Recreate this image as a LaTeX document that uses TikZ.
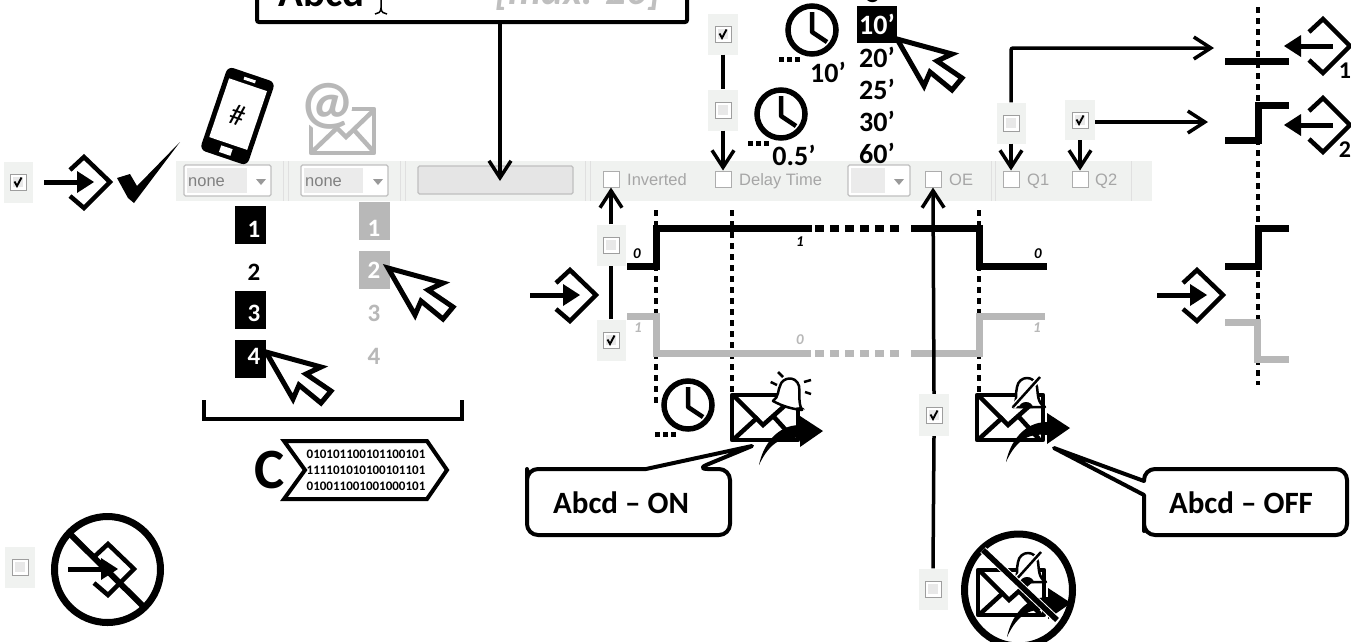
\documentclass[tikz,border=0pt]{standalone}
\usepackage{fontspec}
\setmainfont{Carlito}
\newfontfamily\uifont{Liberation Sans}
\usetikzlibrary{arrows.meta}
\definecolor{bargray}{HTML}{F0F2F0}
\definecolor{sig}{HTML}{B8B8B8}
\definecolor{uitext}{HTML}{A6A6A6}
\newcommand{\fs}[1]{\fontsize{#1}{#1}\selectfont}
\newcommand{\bfs}[1]{\fontsize{#1}{#1}\selectfont\bfseries}
% checkbox on grey patch: name, x, y, w, h
\newcommand{\cbplain}[5]{%
  \node[patch,minimum width=#4,minimum height=#5] (#1) at (#2,#3) {};
  \node[tick] at (#2,#3) {};
  \node[tickin] at (#2,#3) {};}
\newcommand{\cbon}[5]{%
  \cbplain{#1}{#2}{#3}{#4}{#5}
  \draw[line width=1.9,line join=miter] (#2-3.5,#3-0.5) -- (#2-1,#3+4) -- (#2+3.5,#3-4.5);}
\tikzset{
  x=1pt,y=-1pt,
  patch/.style={fill=bargray,draw=none,inner sep=0},
  tick/.style={draw=black!38,fill=white,line width=1,minimum size=16,inner sep=0},
  tickin/.style={fill=black!9,minimum size=10,inner sep=0},
  uibox/.style={draw=black!32,fill=white,line width=1,minimum size=16,inner sep=0},
  uilabel/.style={text=uitext,anchor=base west,inner sep=0,font=\uifont\fs{16.5}},
  combo/.style={draw=black!25,fill=white,line width=1.2,rounded corners=1.5,inner sep=0,minimum height=31},
  num/.style={font=\bfs{25},inner sep=0},
  tm/.style={font=\bfs{28},inner sep=0},
  lev/.style={font=\bfseries\itshape\fs{15},inner sep=0},
  conn/.style={line width=3.5,-{Straight Barb[length=17pt,width=22pt,line width=3.5pt]}},
  plainconn/.style={line width=3.5},
  sigline/.style={line width=7,line join=miter},
  dots/.style={line width=3.5,dash pattern=on 6pt off 5pt},
  thick box/.style={line width=4,line join=round},
  entryicon/.pic={
    \draw[line width=5] (0,0) -- (36,0);
    \fill (33,-11) -- (50,0) -- (33,11) -- cycle;
    \draw[line width=4.5,line join=miter] (26,-12) -- (40,-25) -- (66,0) -- (40,26) -- (26,14);},
  exiticon/.pic={
    \draw[line width=5] (24,0) -- (-10,0);
    \fill (-25,0) -- (-8,-11) -- (-8,11) -- cycle;
    \draw[line width=4.5,line join=miter] (0,-14) -- (14,-27) -- (41,0) -- (14,27) -- (0,14);},
  cursoric/.pic={
    \draw[line width=5,fill=white,line join=miter] (0,0) -- (55,15) -- (40,22) -- (65,39) -- (55,51) -- (33,33) -- (27,47) -- cycle;},
  clockic/.pic={
    \draw[line width=5.5,fill=white] (0,0) circle (24);
    \draw[line width=4.5,line join=round] (0,-18) -- (0,2) -- (15,12);
    \foreach \q in {-33,-25,-17} \fill (\q,27) rectangle +(5,5);},
  mailbase/.pic={
    \draw[line width=4.5,line join=round,fill=white] (0,0) rectangle (66,45);
    \draw[line width=4.5,line join=miter] (2,1) -- (31,30) -- (58,6);
    \draw[line width=4.5] (2,44) -- (26,22);
    \draw[line width=4.5] (42,22) -- (62,44);},
  mailarrow/.pic={
    \fill (27,70) .. controls (31,50) and (45,30) .. (68,30) -- (68,21) -- (91,36) -- (68,52) -- (68,43) .. controls (52,41) and (38,46) .. (27,70) -- cycle;},
  mailon/.pic={
    \pic at (0,0) {mailbase};
    \draw[line width=2.5,fill=white,line join=round] (41,6) .. controls (47,2) and (46,-6) .. (48,-9) .. controls (50,-18) and (64,-20) .. (67,-9) .. controls (68,-2) and (66,8) .. (70,15) .. controls (60,14) and (50,11) .. (41,6) -- cycle;
    \fill (50,12) -- (62,14.5) arc (10:170:-5.5 and -3) -- cycle;
    \draw[line width=2.5] (38.7,-13) -- (45,-10) (46,-23) -- (51,-18) (72,-13) -- (79,-15) (73,-3) -- (79,-1);
    \pic at (0,0) {mailarrow};},
  mailoff/.pic={
    \pic at (0,0) {mailbase};
    \draw[line width=2.5,fill=white,line join=round] (36,12) .. controls (41,6) and (38,-2) .. (40,-8) .. controls (42,-20) and (58,-20) .. (60,-8) .. controls (61,-2) and (60,8) .. (68,12) -- cycle;
    \fill (42,13) arc (180:360:7 and 6) -- cycle;
    \draw[line width=5.5,white] (63,-18) -- (36,12);
    \draw[line width=2.5] (63,-18) -- (36,12);
    \pic at (2,-3) {mailarrow};},
}
\begin{document}
\begin{tikzpicture}
\useasboundingbox (0,0) rectangle (1351,641);
\clip (0,0) rectangle (1351,641);
\fill[white] (0,0) rectangle (1351,641);

% toolbar
\fill[bargray] (176,161) rectangle (1152,201);
\foreach \q in {283,288,400,405,585,590,991,995,1131}
  \draw[black!12,line width=0.8] (\q,161) -- (\q,201);
\node[combo,minimum width=87] (comboA) at (227.5,180.5) {};
\fill[black!8] (187,168) rectangle (247,193);
\node[inner sep=0,anchor=base west,text=black!50,font=\uifont\fs{16.5}] (noneA) at (188,186) {none};
\fill[black!40] (256,179) -- (266,179) -- (261,185) -- cycle;
\node[combo,minimum width=87] (comboB) at (344.5,180.5) {};
\fill[black!8] (304,168) rectangle (363,193);
\node[inner sep=0,anchor=base west,text=black!50,font=\uifont\fs{16.5}] (noneB) at (305,186) {none};
\fill[black!40] (373,179) -- (383,179) -- (378,185) -- cycle;
\node[draw=black!25,fill=black!10,line width=1.2,rounded corners=1.5,minimum width=155,minimum height=28,inner sep=0] (field) at (495.5,180) {};
\node[combo,minimum width=62] (comboC) at (879,180.5) {};
\fill[black!8] (851,168) rectangle (885,193);
\fill[black!40] (894,179) -- (904,179) -- (899,185) -- cycle;

\node[uibox] (inv) at (611,179) {};
\node[uilabel] (invT) at (627,185) {Inverted};
\node[uibox] (delay) at (723,179) {};
\node[uilabel] (delayT) at (739,185) {Delay Time};
\node[uibox] (oe) at (933,179) {};
\node[uilabel] (oeT) at (949,185) {OE};
\node[uibox] (qa) at (1011,179) {};
\node[uilabel] (qaT) at (1027,185) {Q1};
\node[uibox] (qb) at (1080,179) {};
\node[uilabel] (qbT) at (1095,185) {Q2};

% top input box
\node[draw,line width=4,rounded corners=2,minimum width=430,minimum height=60,inner sep=0] (topbox) at (472,-8) {};
\node[anchor=base west,inner sep=0,font=\bfs{41}] (abcd) at (278,6) {Abcd};
\node[anchor=base west,inner sep=0,text=black!25,font=\bfseries\itshape\fs{41}] (maxt) at (495,4) {[max: 20]};
\draw[line width=1.5] (381,0) -- (381,8) .. controls (381,12) and (378,14) .. (375,14) (381,8) .. controls (381,12) and (384,14) .. (387,14);
\coordinate (fieldtip) at (500,181);
\draw[conn] (topbox.south -| fieldtip) -- (fieldtip);

% checkboxes on patches
\cbon{cA}{18}{182}{29}{41}
\cbon{cDelA}{723}{34}{30}{41}
\cbplain{cDelB}{723}{110}{30}{41}
\cbplain{cQa}{1011}{123}{29}{41}
\cbon{cQb}{1080}{120}{30}{40}
\cbplain{cInvA}{611}{245}{29}{41}
\cbon{cInvB}{611}{340}{29}{41}
\cbon{cOeA}{934}{415}{30}{42}
\cbplain{cOeB}{933}{589}{29}{41}
\cbplain{cNo}{20}{567}{30}{41}

\coordinate (qatip) at (1214,48);
\coordinate (qbtip) at (1208,122);
\draw[plainconn] (cDelA.south) -- (cDelB.north);
\draw[conn] (cDelB.south) -- (delay.north);
\draw[conn,rounded corners=2] (cQa.north) -- (cQa.north |- qatip) -- (qatip);
\draw[conn] (cQa.south) -- (qa.north);
\draw[conn] (cQb.east |- qbtip) -- (qbtip);
\draw[conn] (cQb.south) -- (qb.north);
\draw[conn] (cInvA.north) -- (inv.south);
\draw[plainconn] (cInvB.north) -- (cInvA.south);
\draw[plainconn] (cOeB.north) -- (cOeA.south);

% dotted guides
\draw[dots] (656,210) -- (656,405);
\draw[dots] (732,210) -- (732,400);
\draw[dots] (979,210) -- (979,392);
\draw[dots] (1258,7) -- (1258,385);

% waveforms
\draw[sigline] (627,266) -- (656,266) -- (656,228) -- (812,228);
\draw[sigline] (911,228) -- (979,228) -- (979,266) -- (1047,266);
\draw[sigline,dash pattern=on 9pt off 6pt] (815,228) -- (904,228);
\draw[sigline,sig] (627,316) -- (656,316) -- (656,353) -- (811,353);
\draw[sigline,sig] (911,353) -- (979,353) -- (979,316) -- (1045,316);
\draw[sigline,sig,dash pattern=on 9pt off 6pt] (815,353) -- (904,353);
\draw[conn] (cOeA.north) -- (oe.south);
\node[lev] (l1) at (637,254) {0};
\node[lev] (l2) at (800,242) {1};
\node[lev] (l3) at (1038,254) {0};
\node[lev,text=sig] (l4) at (638,328) {1};
\node[lev,text=sig] (l5) at (800,340) {0};
\node[lev,text=sig] (l6) at (1037,328) {1};

\draw[sigline] (1225,61) -- (1289,61);
\draw[sigline] (1225,140) -- (1258,140) -- (1258,105) -- (1289,105);
\draw[sigline] (1225,266) -- (1258,266) -- (1258,228) -- (1289,228);
\draw[sigline,sig] (1225,322) -- (1257,322) -- (1257,359) -- (1289,359);

% entry and exit icons
\pic at (44,182) {entryicon};
\pic at (530,295) {entryicon};
\pic at (1157,295) {entryicon};
\pic at (1309,46) {exiticon};
\pic at (1309,125) {exiticon};
\node[font=\bfs{24},inner sep=0] (one) at (1345,71) {1};
\node[font=\bfs{24},inner sep=0] (two) at (1345,150) {2};

% check mark
\fill (117,178) -- (130,174) -- (137,186) -- (180,142) -- (134,203) -- (128,198) -- cycle;

% phone
\begin{scope}[shift={(237.5,116)},rotate=-18.7]
\fill[rounded corners=6] (-25,-44) rectangle (25,44);
\fill[white] (-20,-33) rectangle (20,29);
\fill[white] (-6,-39.5) rectangle (6,-36.5);
\fill[white] (-6,33) rectangle (6,40);
\node[font=\fs{30},inner sep=0,transform shape] (hash) at (0,-1) {\#};
\end{scope}

% at-mail
\draw[sig,line width=4.5,line join=round] (311,109) rectangle (374,153);
\fill[white] (327,107) circle (25);
\draw[sig,line width=4.5,line join=miter] (312,152) -- (337,128) -- (346,137) -- (373,111);
\draw[sig,line width=4.5] (354,130) -- (373,151);
\node[inner sep=0,text=sig,font=\bfs{60}] (atsign) at (327,106) {@};

% number lists
\fill (235,206) rectangle (266,244);
\fill (235,291) rectangle (266,329);
\fill (235,340) rectangle (266,378);
\node[num,text=white] (n1) at (254,229) {1};
\node[num] (n2) at (254,272) {2};
\node[num,text=white] (n3) at (254,313) {3};
\node[num,text=white] (n4) at (254,356) {4};
\fill[sig] (359,202) rectangle (390,240);
\fill[sig] (359,251) rectangle (390,289);
\node[num,text=white] (m1) at (374,228) {1};
\node[num,text=white] (m2) at (374,270) {2};
\node[num,text=sig] (m3) at (374,313) {3};
\node[num,text=sig] (m4) at (374,356) {4};
\pic at (388,268) {cursoric};
\pic at (266,352) {cursoric};

% bracket and code
\draw[thick box,line join=miter] (204,400) -- (204,419) -- (462,419) -- (462,400);
\node[font=\bfs{57},inner sep=0] (cc) at (270,470) {C};
\draw[line width=4,fill=white,line join=miter] (284,441) -- (427,441) -- (447,470) -- (427,499) -- (284,499) -- (305,470) -- cycle;
\node[align=center,inner sep=0,font=\fontsize{13}{16}\selectfont\bfseries] (bits) at (366,470) {010101100101100101\\111101010100101101\\010011001001000101};

% delay list
\fill (857,6) rectangle (897,43);
\node[tm] (t0) at (877,-8) {5’};
\node[tm,text=white] (t1) at (877,24) {10’};
\node[tm] (t2) at (877,57) {20’};
\node[tm] (t3) at (877,89) {25’};
\node[tm] (t4) at (877,121) {30’};
\node[tm] (t5) at (877,153) {60’};
\pic at (897,39) {cursoric};
\pic at (812,30) {clockic};
\pic at (781,114) {clockic};
\pic at (688,405) {clockic};
\node[tm] (c1) at (828,72) {10’};
\node[tm] (c2) at (794,155) {0.5’};

% mail icons
\pic at (732,395) {mailon};
\pic at (977,395) {mailoff};

% prohibited
\draw[line width=7] (107.5,569.5) circle (53);
\pic at (68,569) {entryicon};
\draw[line width=6] (69,533) -- (144,607);
\pic at (978,570) {mailoff};
\draw[line width=7] (1018.5,590) ellipse (54 and 56);
\draw[white,line width=7.5] (983,550) -- (1057,620);
\draw[line width=5.5] (983,550) -- (1057,620);

% callouts
\draw[line width=4,fill=white,line join=round,rounded corners=11] (527,480) -- (527,535) -- (730,535) -- (730,469) -- (696.5,469) [sharp corners] -- (752,446) -- (646,469) [rounded corners=11] -- (527,469) -- cycle;
\node[font=\bfs{31},inner sep=0] (lon) at (621,503) {Abcd – ON};
\draw[line width=4,fill=white,line join=round,rounded corners=11] (1144,520) -- (1144,535) -- (1347,535) -- (1347,469) -- (1144,469) [sharp corners] -- (1144,481) -- (1054,448) -- (1144,495) [rounded corners=11] -- cycle;
\node[font=\bfs{31},inner sep=0] (loff) at (1241,503) {Abcd – OFF};
\end{tikzpicture}
\end{document}
